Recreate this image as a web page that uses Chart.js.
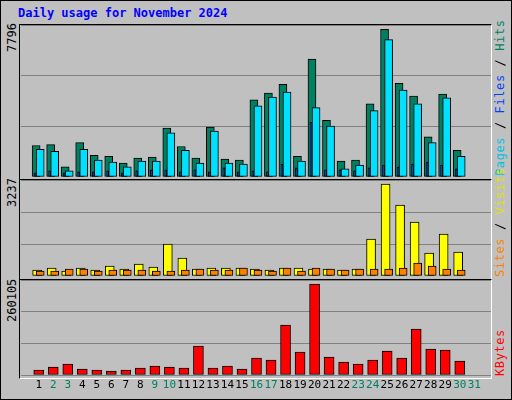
<!DOCTYPE html>
<html><head><meta charset="utf-8">
<script src="https://cdn.jsdelivr.net/npm/chart.js@4"></script>
<style>
html,body{margin:0;padding:0;}
body{width:512px;height:400px;background:#c0c0c0;position:relative;overflow:hidden;font-family:"DejaVu Sans Mono",monospace;}
#frame2{position:absolute;left:0;top:0;width:510px;height:398px;border:1px solid #000;}
canvas{position:absolute;}
.panel{position:absolute;left:19px;width:471px;border:1px solid #000;border-right-color:#fff;border-bottom-color:#fff;}
.t{position:absolute;white-space:nowrap;font-size:12px;}
.up{position:absolute;white-space:nowrap;font-size:12px;transform-origin:0 0;transform:rotate(-90deg);}
</style></head><body>
<div id="frame2"></div>
<div class="t" style="left:18px;top:6px;color:#0000ff;font-weight:bold;">Daily usage for November 2024</div>
<div class="panel" style="top:24px;height:154px;"></div>
<div class="panel" style="top:179px;height:99px;"></div>
<div class="panel" style="top:279px;height:98px;"></div>
<div class="up" style="left:5px;top:52px;">7796</div>
<div class="up" style="left:5px;top:207px;">3237</div>
<div class="up" style="left:5px;top:322px;">260105</div>
<div class="up" style="left:493px;top:176px;letter-spacing:0.6px"><span style="color:#00c0e0">Pages</span> / <span style="color:#0040ff">Files</span> / <span style="color:#008060">Hits</span></div>
<div class="up" style="left:493px;top:277px;letter-spacing:0.6px"><span style="color:#ff8000">Sites</span> / <span style="color:#e0e000">Visits</span></div>
<div class="up" style="left:493px;top:376px;letter-spacing:0.6px;color:#ff0000">KBytes</div>
<canvas id="c1" style="left:21px;top:25px;width:470px;height:152px"></canvas>
<canvas id="c2" style="left:21px;top:180px;width:470px;height:96px"></canvas>
<canvas id="c3" style="left:21px;top:280px;width:470px;height:117px"></canvas>
<script>
const days=[1,2,3,4,5,6,7,8,9,10,11,12,13,14,15,16,17,18,19,20,21,22,23,24,25,26,27,28,29,30,31];
const weekend=[2,3,9,10,16,17,23,24,30,31];
const hits=[1662,1713,534,1816,1149,1098,739,995,1047,2586,1611,995,2637,944,893,4073,4432,4894,1098,6228,2996,841,893,3868,7796,4945,4278,2124,4381,1406];
const files=[1457,1354,328,1457,893,790,534,841,841,2329,1406,739,2432,739,687,3765,4227,4484,841,3663,2688,431,636,3509,7254,4586,3868,1816,4176,1098];
const pages=[222,325,222,274,274,325,222,325,376,376,274,376,274,479,274,325,274,684,479,2890,376,376,325,479,633,530,684,787,633,427];
const visits=[211,282,176,282,211,352,246,422,317,1126,634,246,282,282,282,246,211,282,282,246,246,211,246,1302,3237,2499,1901,810,1478,845];
const sites=[176,176,246,246,176,211,211,211,176,176,211,246,211,211,282,211,176,282,176,282,246,211,246,246,246,282,458,352,246,211];
const kbytes=[14290,22866,31440,17150,14290,11433,14290,20006,25723,22866,20006,82882,20006,25723,17150,48586,42870,142900,65734,260105,51444,37154,31440,42870,68592,48586,131468,74308,71450,40012];

function pts(vals,off){return vals.map((v,i)=>({x:days[i]+off,y:v}));}
function ds(vals,off,color,w,order){return {data:pts(vals,off),backgroundColor:color,borderColor:'#000',borderWidth:1,borderSkipped:false,barThickness:w,grouped:false,order:order};}
function make(id,datasets,ymax,showX){
  return new Chart(document.getElementById(id),{type:'bar',data:{datasets},
  options:{responsive:false,animation:false,maintainAspectRatio:false,devicePixelRatio:1,
   layout:{padding:0},plugins:{legend:{display:false},tooltip:{enabled:false}},
   scales:{
    x:{type:'linear',min:0.3,max:31.63,display:showX,grid:{display:false,drawTicks:false},border:{display:false},
      afterBuildTicks:s=>{s.ticks=days.map(d=>({value:d}));},
      afterFit:s=>{s.height=showX?22:0;},
      ticks:{autoSkip:false,maxRotation:0,padding:4,font:{family:'DejaVu Sans Mono',size:11},
        color:c=>weekend.includes(days[c.index])?'#008060':'#000',callback:(v)=>String(v)}},
    y:{min:0,max:ymax,grid:{color:'#808080',lineWidth:1,drawTicks:false},border:{display:false},
      ticks:{display:false,stepSize:ymax/3},afterFit:s=>{s.width=0;}}
   }}});
}
function size(id,w,h){const c=document.getElementById(id);c.width=w;c.height=h;}
size('c1',470,152);size('c2',470,96);size('c3',470,117);
make('c1',[ds(hits,-0.18,'#008060',8,3),ds(files,0.1,'#00e0ff',8,2),ds(pages,-0.25,'#0040ff',2,1)],8029,false);
make('c2',[ds(visits,-0.11,'#ffff00',9,2),ds(sites,0.1,'#ff8000',8,1)],3378,false);
make('c3',[ds(kbytes,0,'#ff0000',10,1)],271538,true);
</script></body></html>
